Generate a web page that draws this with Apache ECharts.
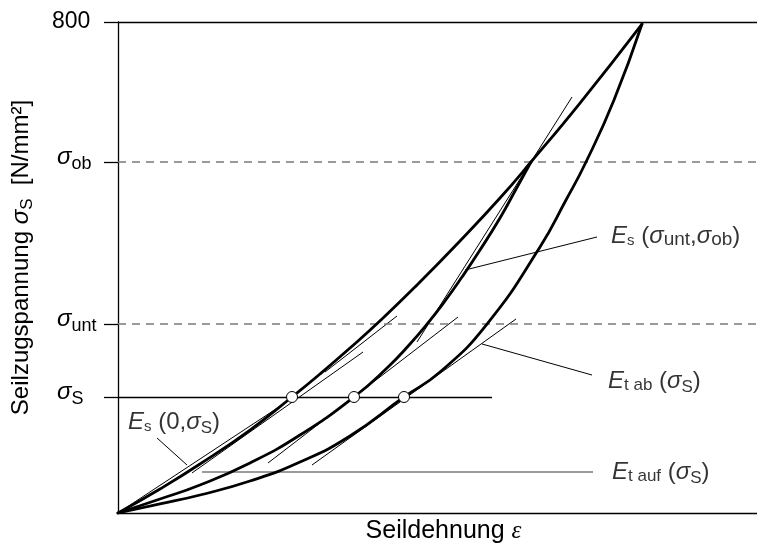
<!DOCTYPE html>
<html><head><meta charset="utf-8">
<script src="https://cdn.jsdelivr.net/npm/echarts@6/dist/echarts.min.js"></script>
<style>html,body{margin:0;padding:0;background:#fff}#c{width:757px;height:551px}</style>
</head><body><div id="c"></div>
<script>
const FONT = '"Liberation Sans", Arial, sans-serif';

// axis extents (strain in arbitrary units, stress in N/mm²)
const xMax = 639;
const yMax = 800;

// reference stress levels
const sigmaS = 189;
const sigmaUnt = 308;
const sigmaOb = 572;

// y tick values and labels
const yTickValues = [sigmaS, sigmaUnt, sigmaOb, yMax];
const yTickLabels = ['{g|σ}{sb|S}', '{g|σ}{sb|unt}', '{g|σ}{sb|ob}', '{n|800}'];

// upper curve (loading)
const upperX = [0, 42, 82, 132, 174, 202, 232, 264, 299, 342, 382, 413, 462, 524];
const upperY = [0, 39.1, 79.8, 135.2, 189.0, 226.5, 268.8, 316.1, 371.5, 443.2, 513.2, 571.9, 668.0, 796.7];
// middle curve
const middleX = [0, 42, 82, 132, 182, 236, 269, 292, 310, 327, 344, 362, 382, 397, 413];
const middleY = [0, 22.8, 45.6, 81.5, 127.1, 189.0, 236.3, 275.4, 309.6, 345.4, 384.5, 428.5, 480.7, 524.6, 571.9];
// lower curve (unloading)
const lowerX = [0, 42, 82, 132, 182, 232, 286, 322, 369, 422, 448, 468, 496, 524];
const lowerY = [0, 14.7, 29.3, 52.1, 83.1, 125.5, 189.0, 229.7, 307.9, 433.4, 510.0, 571.9, 672.9, 796.7];

// thin straight lines: secants and tangents [x0, y0, x1, y1]
const secantZero = [0, 0, 170, 182.5];
const tangentUpperA = [74, 65.2, 245, 262.3];
const tangentUpperB = [207, 229.7, 279, 321.0];
const tangentMiddle = [150, 81.5, 340, 319.3];
const tangentLower = [194, 78.2, 398, 316.1];
const secantUntOb = [299, 278.6, 454, 677.8];

// leader lines [x0, y0, x1, y1]
const leaderEs0 = [39, 122.2, 69, 78.2];
const leaderEsUntOb = [479, 449.7, 347, 395.9];
const leaderEtAb = [474, 224.8, 364, 275.4];
const leaderEtAuf = [84, 66.8, 475, 66.8];

// σS line end and marked points
const sigmaSLineEnd = 374;
const markX = [174, 236, 286];

// annotation labels
const annotTexts = [
  '{E|E}{s1|s}{t| (}{g|σ}{s4|unt}{t|,}{g|σ}{s4|ob}{t|)}',
  '{E|E}{s2|t ab}{t| (}{g|σ}{s3|S}{t|)}',
  '{E|E}{s2|t auf}{t| (}{g|σ}{s3|S}{t|)}',
  '{E|E}{s1|s}{t| (0,}{g|σ}{s3|S}{t|)}'
];
const annotX = [493, 490, 494, 10];
const annotY = [451.3, 214.3, 66.0, 148.3];

const zip = (xs, ys) => xs.map((x, i) => [x, ys[i]]);
const seg = (s) => [[s[0], s[1]], [s[2], s[3]]];

const richAnnot = {
  E: {fontFamily: FONT, fontSize: 24, fontStyle: 'italic', color: '#000'},
  t: {fontFamily: FONT, fontSize: 24, color: '#000'},
  T: {fontFamily: FONT, fontSize: 25, color: '#000'},
  g: {fontFamily: FONT, fontSize: 24, fontStyle: 'italic', color: '#000'},
  s1: {fontFamily: FONT, fontSize: 15, color: '#000', padding: [10, 0, 0, 0]},
  s2: {fontFamily: FONT, fontSize: 17, color: '#000', padding: [8, 0, 0, 0]},
  s3: {fontFamily: FONT, fontSize: 17, color: '#000', padding: [12, 0, 0, 0]},
  s4: {fontFamily: FONT, fontSize: 19, color: '#000', padding: [8, 0, 0, 0]},
  e: {fontFamily: '"Liberation Serif", serif', fontSize: 25, fontStyle: 'italic', color: '#000'}
};

const thick = (data) => ({
  type: 'line', data, symbol: 'none', smooth: 0.5, silent: true, z: 5,
  lineStyle: {color: '#000', width: 2.8, cap: 'round', join: 'round'}
});
const thin = (s, color, width) => ({
  type: 'line', data: seg(s), symbol: 'none', silent: true, z: 4,
  lineStyle: {color: color || '#000', width: width || 1}
});

const chart = echarts.init(document.getElementById('c'), null, {renderer: 'canvas'});
chart.setOption({
  animation: false,
  backgroundColor: '#fff',
  grid: {left: 118, right: 0, top: 22, bottom: 38},
  xAxis: {
    type: 'value', min: 0, max: xMax,
    axisLine: {show: true, onZero: false, lineStyle: {color: '#000', width: 1.3}},
    axisTick: {show: false}, axisLabel: {show: false}, splitLine: {show: false},
    name: '{T|Seildehnung }{e|ε}', nameLocation: 'middle', nameGap: 6,
    nameTextStyle: {rich: richAnnot, padding: [0, 0, 0, 12]}
  },
  yAxis: {
    type: 'value', min: 0, max: yMax,
    axisLine: {show: true, lineStyle: {color: '#000', width: 1.3}},
    axisTick: {show: true, customValues: yTickValues, length: 14, lineStyle: {color: '#000', width: 1.3}},
    axisLabel: {
      customValues: yTickValues, align: 'left', margin: 66,
      formatter: (v) => yTickLabels[yTickValues.indexOf(v)] || '',
      rich: {
        n: {fontFamily: FONT, fontSize: 23, color: '#000'},
        g: {fontFamily: FONT, fontSize: 24, fontStyle: 'italic', color: '#000', padding: [0, 0, 10, 5]},
        sb: {fontFamily: FONT, fontSize: 18, color: '#000', padding: [5, 0, 0, 0]}
      }
    },
    splitLine: {show: false},
    name: '{t|Seilzugspannung }{g|σ}{s3|S}{t|  [N/mm²]}', nameLocation: 'middle', nameGap: 82,
    nameTextStyle: {rich: richAnnot, padding: [0, 0, 0, 20]}
  },
  series: [
    Object.assign(thick(zip(upperX, upperY)), {
      markLine: {
        silent: true, symbol: 'none', label: {show: false}, animation: false,
        data: [
          {yAxis: yMax, lineStyle: {color: '#000', width: 1.3, type: 'solid'}},
          {yAxis: sigmaOb, lineStyle: {color: '#7a7a7a', width: 1.5, type: [8, 6]}},
          {yAxis: sigmaUnt, lineStyle: {color: '#7a7a7a', width: 1.5, type: [8, 6]}},
          [{coord: [0, sigmaS], lineStyle: {color: '#000', width: 1.3, type: 'solid'}}, {coord: [sigmaSLineEnd, sigmaS]}]
        ]
      }
    }),
    thick(zip(middleX, middleY)),
    thick(zip(lowerX, lowerY)),
    thin(secantZero), thin(tangentUpperA), thin(tangentUpperB), thin(tangentMiddle),
    thin(tangentLower), thin(secantUntOb),
    thin(leaderEs0), thin(leaderEsUntOb), thin(leaderEtAb), thin(leaderEtAuf, '#7a7a7a', 1.5),
    {
      type: 'scatter', data: markX.map(x => [x, sigmaS]), symbol: 'circle', symbolSize: 11, z: 10, silent: true,
      itemStyle: {color: '#fff', borderColor: '#000', borderWidth: 1, opacity: 1}
    },
    {
      type: 'scatter', data: zip(annotX, annotY), symbolSize: 0, silent: true, z: 11,
      label: {
        show: true, position: 'right', distance: 0,
        formatter: (p) => annotTexts[p.dataIndex], rich: richAnnot
      }
    }
  ]
});
</script></body></html>
